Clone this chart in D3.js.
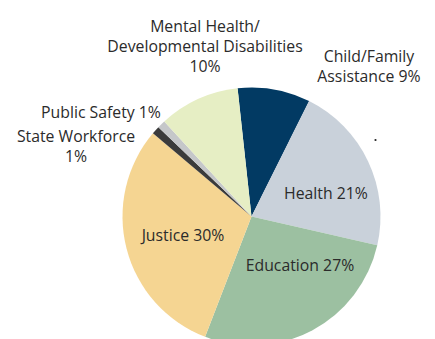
<!DOCTYPE html>
<html>
<head>
<meta charset="utf-8">
<script src="https://cdn.jsdelivr.net/npm/d3@7"></script>
<style>
  body { margin: 0; background: #fff; }
  text { font-family: "Open Sans", sans-serif; fill: #2b2b2b; }
</style>
</head>
<body>
<div id="chart"></div>
<script>
const WIDTH = 435;
const HEIGHT = 339;

// clockwise from just left of 12 o'clock
const categories = ['Child/Family Assistance', 'Health', 'Education', 'Justice',
                    'State Workforce', 'Public Safety', 'Mental Health/Developmental Disabilities'];
const shares = [9, 21, 27, 30, 1, 1, 10];
const colors = ['#023a63', '#c9d1da', '#9cc0a1', '#f5d592', '#3b3b3b', '#c5c7c9', '#e6eec4'];

// label lines, one entry per slice
const labelLines = [
  ['Child/Family', 'Assistance 9%'],
  ['Health 21%'],
  ['Education 27%'],
  ['Justice 30%'],
  ['State Workforce', '1%'],
  ['Public Safety 1%'],
  ['Mental Health/', 'Developmental Disabilities', '10%']
];
const labelPos = [[369, 62], [326, 199], [300, 271], [183, 241], [76, 142], [101, 118], [205, 32]];

const cx = 251.5, cy = 216.5, R = 129;

const svg = d3.select('#chart')
  .append('svg')
    .attr('width', WIDTH)
    .attr('height', HEIGHT);

const g = svg.append('g')
  .attr('transform', `translate(${cx}, ${cy})`);

const startA = -6.2 * Math.PI / 180;
const pie = d3.pie()
  .sort(null)
  .startAngle(startA)
  .endAngle(startA + 2 * Math.PI)
  .value(d => d);

const arc = d3.arc().innerRadius(0).outerRadius(R);

g.selectAll('path')
  .data(pie(shares))
  .enter()
  .append('path')
    .attr('d', arc)
    .attr('fill', (d, i) => colors[i]);

const labels = svg.selectAll('.label')
  .data(labelLines)
  .enter()
  .append('text')
    .attr('class', 'label')
    .attr('text-anchor', 'middle')
    .attr('font-size', 15.8)
    .attr('x', (d, i) => labelPos[i][0])
    .attr('y', (d, i) => labelPos[i][1]);

labels.selectAll('tspan')
  .data((d, i) => d.map(t => ({ t, x: labelPos[i][0] })))
  .enter()
  .append('tspan')
    .attr('x', d => d.x)
    .attr('dy', (d, j) => j === 0 ? 0 : 20.2)
    .text(d => d.t);

// stray dot in the original artwork
svg.append('circle')
  .attr('cx', 375.5)
  .attr('cy', 140)
  .attr('r', 1.1)
  .attr('fill', '#222');
</script>
</body>
</html>
